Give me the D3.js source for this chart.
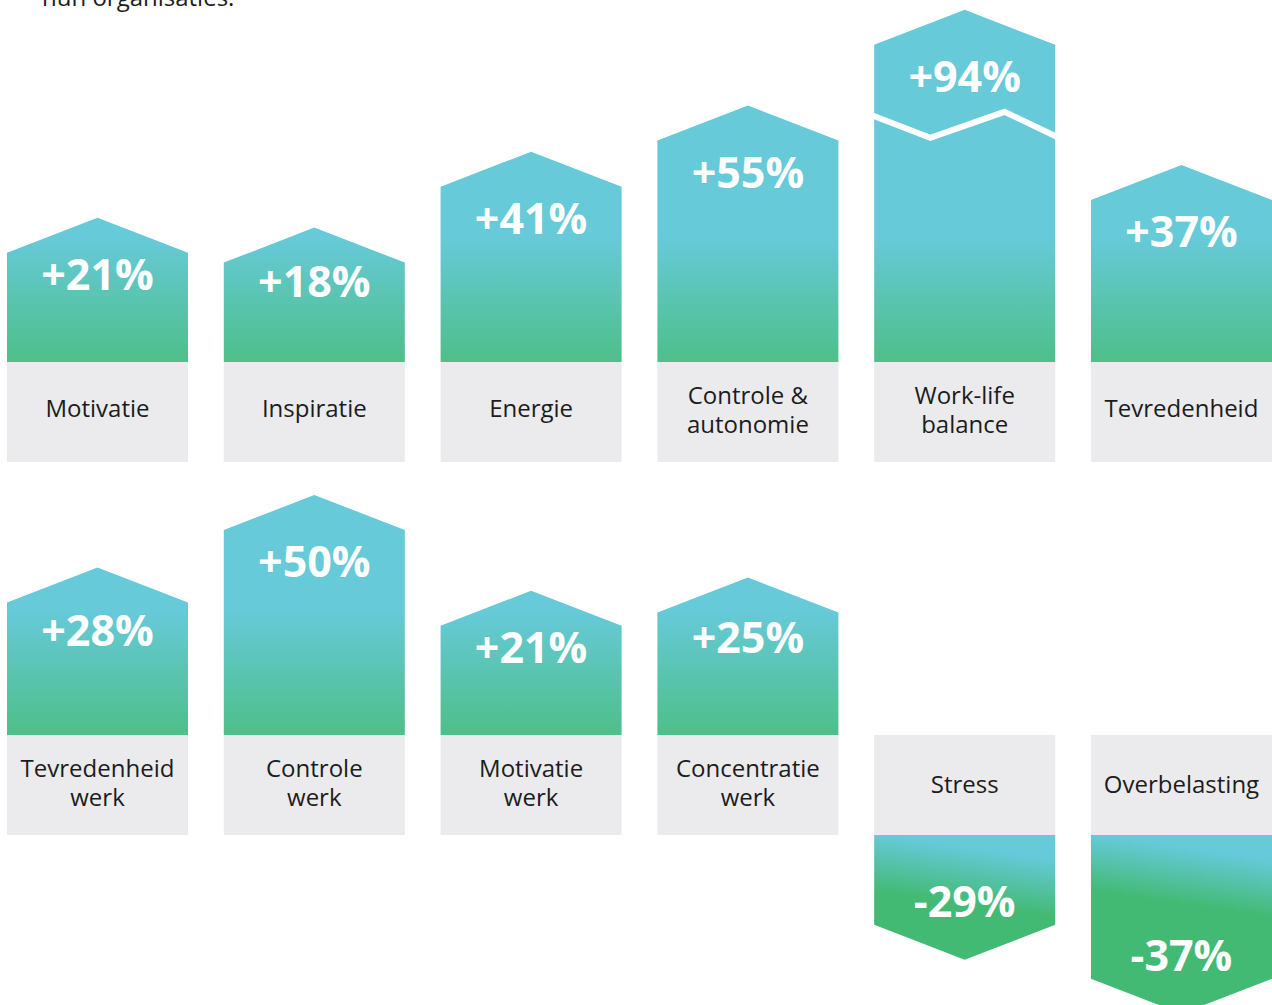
<!DOCTYPE html>
<html>
<head>
<meta charset="utf-8">
<script src="https://cdn.jsdelivr.net/npm/d3@7"></script>
<style>
  body { margin: 0; background: #fff; }
  svg { display: block; font-family: 'Open Sans', sans-serif; }
</style>
</head>
<body>
<svg id="chart" width="1272" height="1005"></svg>
<script>
// top row
const row1Labels = [['Motivatie'], ['Inspiratie'], ['Energie'], ['Controle &', 'autonomie'], ['Work-life', 'balance'], ['Tevredenheid']]
const row1Values = [21, 18, 41, 55, 94, 37]

// bottom row
const row2Labels = [['Tevredenheid', 'werk'], ['Controle', 'werk'], ['Motivatie', 'werk'], ['Concentratie', 'werk'], ['Stress'], ['Overbelasting']]
const row2Values = [28, 50, 21, 25, -29, -37]

const introText = 'hun organisaties.'

const W = 1272
const boxH = 100
const tip = 35 // height of the arrow point
const breakAt = 84 // values above this get a broken bar
const rowTops = [362, 735]

const colors = {
  cyan: '#66cad9',
  green: '#4fbf8c',
  greenDown: '#43ba74',
  box: '#ebebed',
  text: '#1c1c1c'
}

const svg = d3.select('#chart')
const defs = svg.append('defs')

const x = d3.scaleBand()
  .domain(d3.range(6))
  .range([7, W])
  .paddingInner(0.165)
  .paddingOuter(0)

// not strictly proportional in the original, so a bit of offset
const up = d3.scaleLinear().domain([0, 100]).range([40, 370])
const down = d3.scaleLinear().domain([0, 40]).range([-106, 164])

// intro line runs off the top, like in the source page
svg.append('text')
  .attr('x', 42)
  .attr('y', 6)
  .attr('fill', colors.text)
  .style('font-size', '24px')
  .text(introText)

const fmt = v => (v > 0 ? '+' : '') + v + '%'

function drawRow (labels, values, top, r) {
  const w = x.bandwidth()

  // gradient for the bars pointing up
  const gUp = defs.append('linearGradient')
    .attr('id', 'up-' + r)
    .attr('gradientUnits', 'userSpaceOnUse')
    .attr('x1', 0).attr('x2', 0)
    .attr('y1', top - 125).attr('y2', top - 4)
  gUp.append('stop').attr('offset', 0).attr('stop-color', colors.cyan)
  gUp.append('stop').attr('offset', 1).attr('stop-color', colors.green)

  const g = svg.append('g')

  values.forEach((v, i) => {
    const x0 = x(i)
    const cx = x0 + w / 2

    g.append('rect')
      .attr('x', x0)
      .attr('y', top)
      .attr('width', w)
      .attr('height', boxH)
      .attr('fill', colors.box)

    const lines = labels[i]
    const mid = top + boxH / 2
    const label = g.append('text')
      .attr('x', cx)
      .attr('y', lines.length === 1 ? mid + 5 + r * 3 : mid - 8)
      .attr('text-anchor', 'middle')
      .attr('fill', colors.text)
      .style('font-size', '24px')
    lines.forEach((t, k) => {
      label.append('tspan')
        .attr('x', cx)
        .attr('dy', k === 0 ? 0 : 29)
        .text(t)
    })

    if (v > 0) {
      const h = up(Math.min(v, breakAt))
      const sh = top - h
      const path = d3.path()
      path.moveTo(x0, top)
      path.lineTo(x0, sh)
      path.lineTo(cx, sh - tip)
      path.lineTo(x0 + w, sh)
      path.lineTo(x0 + w, top)
      path.closePath()
      g.append('path')
        .attr('d', path.toString())
        .attr('fill', `url(#up-${r})`)

      if (v > breakAt) {
        const brk = [[-0.02, 70], [0.31, 93], [0.72, 67], [1.02, 93]]
        g.append('path')
          .attr('d', d3.line().x(d => x0 + d[0] * w).y(d => sh + d[1])(brk))
          .attr('fill', 'none')
          .attr('stroke', '#fff')
          .attr('stroke-width', 6)
      }

      g.append('text')
        .attr('x', cx)
        .attr('y', sh + Math.min(47, 10 + h * 0.25))
        .attr('text-anchor', 'middle')
        .attr('fill', '#fff')
        .style('font-size', '43px')
        .style('font-weight', 700)
        .text(fmt(v))
    } else {
      const y0 = top + boxH
      const h = down(Math.abs(v))
      const sh = y0 + h

      const gDown = defs.append('linearGradient')
        .attr('id', `down-${r}-${i}`)
        .attr('gradientUnits', 'userSpaceOnUse')
        .attr('x1', cx + 4).attr('y1', y0 + 12)
        .attr('x2', cx - 4).attr('y2', y0 + 68)
      gDown.append('stop').attr('offset', 0).attr('stop-color', colors.cyan)
      gDown.append('stop').attr('offset', 1).attr('stop-color', colors.greenDown)

      const path = d3.path()
      path.moveTo(x0, y0)
      path.lineTo(x0, sh)
      path.lineTo(cx, sh + tip)
      path.lineTo(x0 + w, sh)
      path.lineTo(x0 + w, y0)
      path.closePath()
      g.append('path')
        .attr('d', path.toString())
        .attr('fill', `url(#down-${r}-${i})`)

      g.append('text')
        .attr('x', cx)
        .attr('y', sh - 8)
        .attr('text-anchor', 'middle')
        .attr('fill', '#fff')
        .style('font-size', '43px')
        .style('font-weight', 700)
        .text(fmt(v))
    }
  })
}

drawRow(row1Labels, row1Values, rowTops[0], 0)
drawRow(row2Labels, row2Values, rowTops[1], 1)
</script>
</body>
</html>
